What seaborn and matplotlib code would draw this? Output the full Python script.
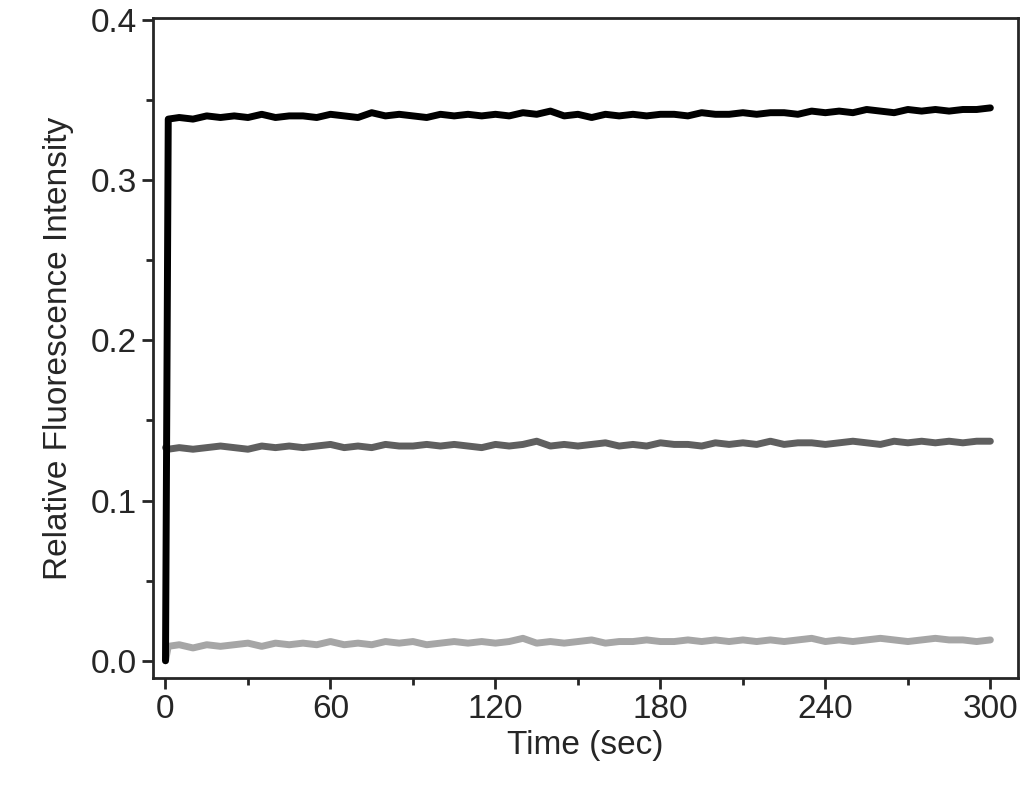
import numpy as np
import seaborn as sns
import matplotlib.pyplot as plt
from matplotlib.ticker import MultipleLocator

# time points (sec), one every 5 s after the initial jump
time = [0, 1] + list(range(5, 301, 5))

black = [0.000, 0.338,
         0.339, 0.338, 0.340, 0.339, 0.340, 0.339, 0.341, 0.339, 0.340,
         0.340, 0.339, 0.341, 0.340, 0.339, 0.342, 0.340, 0.341, 0.340, 0.339,
         0.341, 0.340, 0.341, 0.340, 0.341, 0.340, 0.342, 0.341, 0.343, 0.340,
         0.341, 0.339, 0.341, 0.340, 0.341, 0.340, 0.341, 0.341, 0.340, 0.342,
         0.341, 0.341, 0.342, 0.341, 0.342, 0.342, 0.341, 0.343, 0.342, 0.343,
         0.342, 0.344, 0.343, 0.342, 0.344, 0.343, 0.344, 0.343, 0.344, 0.344,
         0.345]
dark_grey = [0.133, 0.132,
             0.133, 0.132, 0.133, 0.134, 0.133, 0.132, 0.134, 0.133, 0.134,
             0.133, 0.134, 0.135, 0.133, 0.134, 0.133, 0.135, 0.134, 0.134, 0.135,
             0.134, 0.135, 0.134, 0.133, 0.135, 0.134, 0.135, 0.137, 0.134, 0.135,
             0.134, 0.135, 0.136, 0.134, 0.135, 0.134, 0.136, 0.135, 0.135, 0.134,
             0.136, 0.135, 0.136, 0.135, 0.137, 0.135, 0.136, 0.136, 0.135, 0.136,
             0.137, 0.136, 0.135, 0.137, 0.136, 0.137, 0.136, 0.137, 0.136, 0.137,
             0.137]
light_grey = [0.000, 0.009,
              0.010, 0.008, 0.010, 0.009, 0.010, 0.011, 0.009, 0.011, 0.010,
              0.011, 0.010, 0.012, 0.010, 0.011, 0.010, 0.012, 0.011, 0.012, 0.010,
              0.011, 0.012, 0.011, 0.012, 0.011, 0.012, 0.014, 0.011, 0.012, 0.011,
              0.012, 0.013, 0.011, 0.012, 0.012, 0.013, 0.012, 0.012, 0.013, 0.012,
              0.013, 0.012, 0.013, 0.012, 0.013, 0.012, 0.013, 0.014, 0.012, 0.013,
              0.012, 0.013, 0.014, 0.013, 0.012, 0.013, 0.014, 0.013, 0.013, 0.012,
              0.013]

sns.set_style("ticks")
plt.rcParams['font.family'] = ['Liberation Sans', 'DejaVu Sans']

fig, ax = plt.subplots(figsize=(10.24, 7.89), dpi=100)
fig.subplots_adjust(left=0.149, right=0.994, top=0.977, bottom=0.141)

sns.lineplot(x=time, y=light_grey, color='#a6a6a6', linewidth=5, ax=ax)
sns.lineplot(x=time, y=dark_grey, color='#5f5f5f', linewidth=5, ax=ax)
sns.lineplot(x=time, y=black, color='black', linewidth=5, ax=ax)

ax.set_xlim(-4.7, 310)
ax.set_ylim(-0.0106, 0.401)
ax.xaxis.set_minor_locator(MultipleLocator(30))
ax.yaxis.set_minor_locator(MultipleLocator(0.05))
ax.set_xticks(range(0, 301, 60))
ax.set_xticklabels([str(t) for t in range(0, 301, 60)])
ax.set_yticks([0.0, 0.1, 0.2, 0.3, 0.4])
ax.set_yticklabels(['0.0', '0.1', '0.2', '0.3', '0.4'])
ax.tick_params(which='major', length=8, width=2, labelsize=24, direction='out')
ax.tick_params(which='minor', length=5, width=2, direction='out')
for s in ax.spines.values():
    s.set_linewidth(2)
ax.set_xlabel('Time (sec)', fontsize=24, labelpad=4)
ax.set_ylabel('Relative Fluorescence Intensity', fontsize=24, labelpad=12)

plt.savefig('out.png')
